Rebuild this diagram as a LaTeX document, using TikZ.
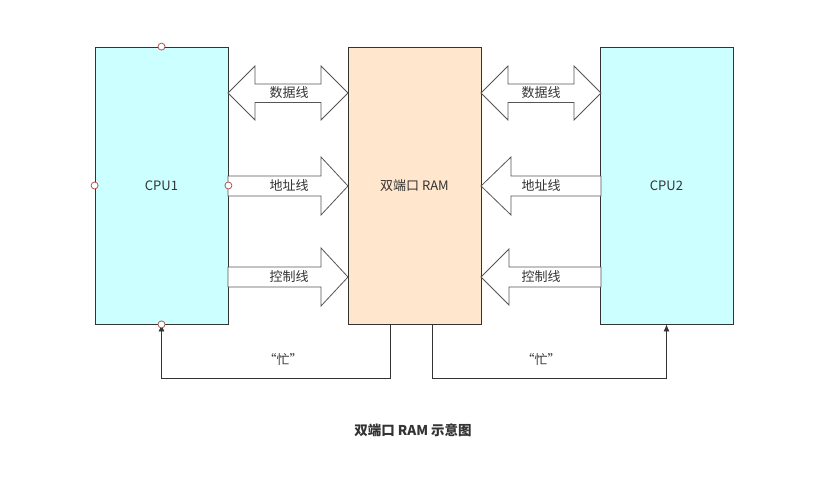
\documentclass[tikz,border=0pt]{standalone}
\usepackage{fontspec}
\setmainfont{Noto Sans CJK SC}
\usetikzlibrary{arrows.meta}
\definecolor{cpufill}{HTML}{CCFFFF}
\definecolor{ramfill}{HTML}{FFE6CC}
\definecolor{txt}{HTML}{333333}
\definecolor{pipeline}{HTML}{555555}
\definecolor{handle}{HTML}{B85450}
\begin{document}
\begin{tikzpicture}[x=1pt,y=-1pt,
  box/.style={draw=txt, line width=0.8pt, minimum width=133pt, minimum height=277pt, inner sep=0pt, font=\fontsize{13}{15}\selectfont, text=txt},
  pipe/.style={draw=pipeline, fill=white, line width=0.8pt, line join=miter},
  lbl/.style={font=\fontsize{13}{15}\selectfont, text=txt, inner sep=1pt},
  busy/.style={draw=txt, line width=0.8pt, -{Latex[length=7pt,width=6pt]}},
  hnd/.style={draw=handle, fill=white, line width=0.8pt}]
\useasboundingbox[fill=white] (0,0) rectangle (817,480);
\node[box, fill=cpufill] (cpu1) at (161.5,185.5) {CPU1};
\node[box, fill=ramfill] (ram) at (414.5,185.5) {双端口 RAM};
\node[box, fill=cpufill] (cpu2) at (666.5,185.5) {CPU2};
% left side pipes
\draw[pipe] (228,93) -- (255,66) -- (255,84) -- (321,84) -- (321,66) -- (348,93) -- (321,120) -- (321,102.5) -- (255,102.5) -- (255,120) -- cycle;
\draw[pipe] (228,176) -- (321,176) -- (321,157) -- (348,186) -- (321,215) -- (321,196) -- (228,196) -- cycle;
\draw[pipe] (228,267) -- (321,267) -- (321,248) -- (348,277) -- (321,306) -- (321,287) -- (228,287) -- cycle;
% right side pipes
\draw[pipe] (481,93) -- (508,66) -- (508,84) -- (574,84) -- (574,66) -- (601,93) -- (574,120) -- (574,102.5) -- (508,102.5) -- (508,120) -- cycle;
\draw[pipe] (601,176) -- (511,176) -- (511,157) -- (481,186) -- (511,215) -- (511,196) -- (601,196) -- cycle;
\draw[pipe] (601,267) -- (509,267) -- (509,249) -- (481,277) -- (509,305) -- (509,287) -- (601,287) -- cycle;
% labels
\node[lbl] (ld) at (289,93) {数据线};
\node[lbl] (la) at (289,186) {地址线};
\node[lbl] (lc) at (289,277) {控制线};
\node[lbl] (rd) at (541,93) {数据线};
\node[lbl] (ra) at (541,186) {地址线};
\node[lbl] (rc) at (541,277) {控制线};
% busy lines
\draw[busy] ([xshift=-24pt]ram.south) -- ++(0,54) -| (cpu1.south);
\draw[busy] ([xshift=17.5pt]ram.south) -- ++(0,54) -| (cpu2.south);
\node[lbl] (b1) at (283,360) {“忙”};
\node[lbl] (b2) at (541,360) {“忙”};
% title
\node[lbl, font=\fontsize{13.5}{16}\selectfont\bfseries] (title) at (413,430) {双端口 RAM 示意图};
% handles
\foreach \p in {north,west,east,south} \draw[hnd] (cpu1.\p) circle (3.5pt);
\end{tikzpicture}
\end{document}
